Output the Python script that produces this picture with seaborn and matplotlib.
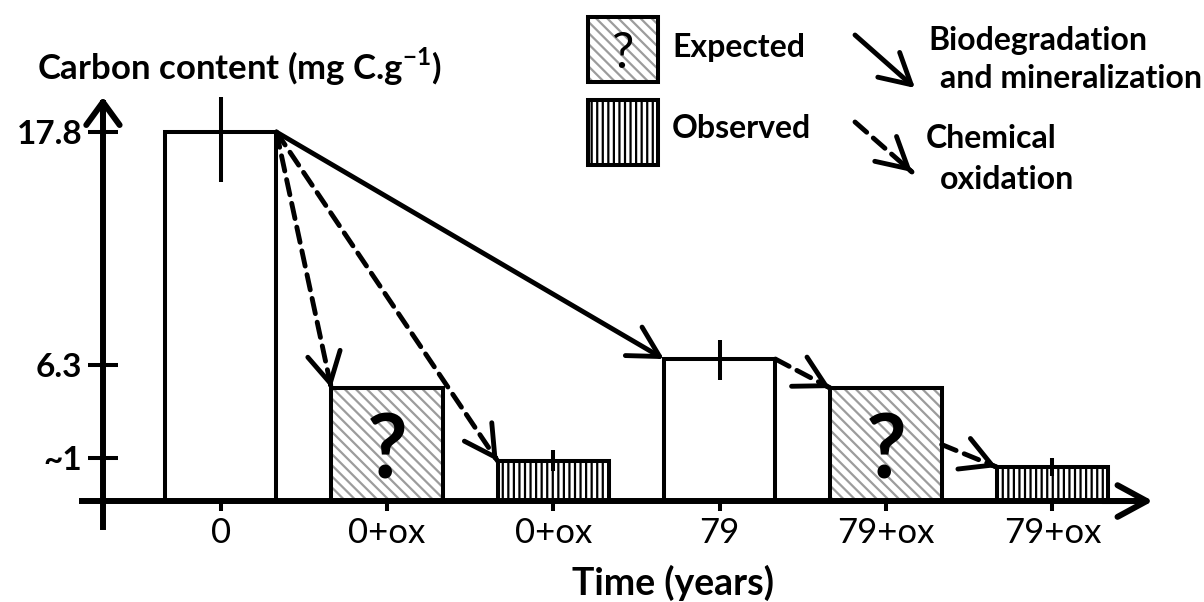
import numpy as np
import pandas as pd
import matplotlib.pyplot as plt
from matplotlib.patches import Rectangle
import seaborn as sns

# --- data: schematic heights (chart units) ---
samples = ["0", "0+ox exp", "0+ox obs", "79", "79+ox exp", "79+ox obs"]
tick_labels = ["0", "0+ox", "0+ox", "79", "79+ox", "79+ox"]
kinds = ["measured", "expected", "observed", "measured", "expected", "observed"]
heights = [17.8, 5.45, 1.93, 6.85, 5.45, 1.64]
err_low = [2.41, np.nan, 0.5, 1.01, np.nan, 0.43]
err_high = [1.71, np.nan, 0.53, 0.92, np.nan, 0.43]
y_ticks = [17.8, 6.56, 2.07]
y_tick_labels = ["17.8", "6.3", "~1"]
# (from bar, to bar, dashed, height fraction where the arrow leaves the source bar)
links = [(0, 3, False, 1.0), (0, 1, True, 1.0), (0, 2, True, 1.0),
         (3, 4, True, 1.0), (4, 5, True, 0.5)]

LW = 2.9
ALW = 3.5
DASH = (0, (3.2, 1.8))
HATCH_GREY = "#9c9c9c"

sns.set_style("white", {"axes.edgecolor": "black", "xtick.color": "black",
                        "ytick.color": "black", "text.color": "black"})
plt.rcParams["font.family"] = ["Lato", "DejaVu Sans"]
plt.rcParams["hatch.linewidth"] = 1.6
plt.rcParams["mathtext.fontset"] = "custom"
plt.rcParams["mathtext.rm"] = "Lato"
plt.rcParams["mathtext.bf"] = "Lato:bold"

fig = plt.figure(figsize=(12.04, 6.02), dpi=100)
ax = fig.add_axes([0, 0, 1, 1])

df = pd.DataFrame({"sample": samples, "carbon": heights})
sns.barplot(data=df, x="sample", y="carbon", order=samples, color="white",
            width=0.67, edgecolor="black", linewidth=LW, ax=ax, zorder=2)

bars = list(ax.patches)[:len(samples)]
for bar, kind in zip(bars, kinds):
    if kind == "expected":
        bar.set_facecolor("white")
        bar.set_edgecolor(HATCH_GREY)
        bar.set_hatch("\\\\\\")
        bar.set_linewidth(0)
        ax.add_patch(Rectangle(bar.get_xy(), bar.get_width(), bar.get_height(),
                               fill=False, ec="black", lw=LW, zorder=3))
    elif kind == "observed":
        bar.set_hatch("|||")

# question marks on the expected bars
for i, (kind, h) in enumerate(zip(kinds, heights)):
    if kind == "expected":
        ax.text(i, h / 2, "?", ha="center", va="center_baseline",
                fontsize=64, fontweight="bold", zorder=5)

# error bars
idx = [i for i, e in enumerate(err_low) if not np.isnan(e)]
ax.errorbar(idx, [heights[i] for i in idx],
            yerr=[[err_low[i] for i in idx], [err_high[i] for i in idx]],
            fmt="none", ecolor="black", elinewidth=LW, capsize=0, zorder=4)


def draw_arrow(start, end, dashed, coords="data", scale=36):
    head = "->,head_length=0.6,head_width=0.33"
    if dashed:
        ax.annotate("", xy=end, xytext=start, xycoords=coords,
                    arrowprops=dict(arrowstyle="-", lw=ALW, linestyle=DASH,
                                    color="black", shrinkA=0, shrinkB=0))
        near = (end[0] - 0.01 * (end[0] - start[0]), end[1] - 0.01 * (end[1] - start[1]))
        ax.annotate("", xy=end, xytext=near, xycoords=coords,
                    arrowprops=dict(arrowstyle=head, lw=ALW, color="black",
                                    shrinkA=0, shrinkB=0, mutation_scale=scale))
    else:
        ax.annotate("", xy=end, xytext=start, xycoords=coords,
                    arrowprops=dict(arrowstyle=head, lw=ALW, color="black",
                                    shrinkA=0, shrinkB=0, mutation_scale=scale))


for src, dst, dashed, frac in links:
    b0, b1 = bars[src], bars[dst]
    start = (b0.get_x() + b0.get_width(), heights[src] * frac)
    end = (b1.get_x(), heights[dst])
    draw_arrow(start, end, dashed)

# axes with arrow heads
ax.set_xlim(-1.327, 5.912)
ax.set_ylim(-4.87, 24.17)
ax.set_xlabel("")
ax.set_ylabel("")
for s in ["top", "right"]:
    ax.spines[s].set_visible(False)
ax.spines["left"].set_position(("data", -0.708))
ax.spines["left"].set_bounds(-1.25, 19.2)
ax.spines["bottom"].set_position(("data", 0))
ax.spines["bottom"].set_bounds(-0.834, 5.5)
for s in ["left", "bottom"]:
    ax.spines[s].set_linewidth(4.3)
    ax.spines[s].set_color("black")
    ax.spines[s].set_zorder(2.6)
ax.annotate("", xy=(-0.708, 19.49), xytext=(-0.708, 18.5),
            arrowprops=dict(arrowstyle="->,head_length=0.55,head_width=0.4", lw=4.3,
                            color="black", shrinkA=0, shrinkB=0, mutation_scale=30))
ax.annotate("", xy=(5.605, 0), xytext=(5.3, 0),
            arrowprops=dict(arrowstyle="->,head_length=0.7,head_width=0.38", lw=4.3,
                            color="black", shrinkA=0, shrinkB=0, mutation_scale=30))

ax.set_xticks(range(len(samples)), tick_labels)
ax.set_yticks(y_ticks, y_tick_labels)
ax.tick_params(axis="x", bottom=True, direction="inout", length=14.4, width=LW,
               pad=4, labelsize=25)
ax.tick_params(axis="y", left=True, direction="inout", length=22, width=LW,
               pad=4, labelsize=24)
for lab in ax.get_yticklabels():
    lab.set_fontweight("bold")


def px(x, y):
    return (x / 1204, 1 - y / 602)


# axis titles
fig.text(*px(37, 79), r"Carbon content (mg C.g$^{\mathbf{-1}}$)", fontsize=25,
         fontweight="bold", ha="left", va="baseline")
fig.text(*px(673, 595), "Time (years)", fontsize=27, fontweight="bold",
         ha="center", va="baseline")

# legend: boxes
w, h = 70 / 1204, 65 / 602
exp_box = Rectangle(px(588, 82), w, h, transform=fig.transFigure, facecolor="white",
                    edgecolor=HATCH_GREY, hatch="\\\\\\", lw=0)
fig.add_artist(exp_box)
fig.add_artist(Rectangle(px(588, 82), w, h, transform=fig.transFigure, fill=False,
                         ec="black", lw=LW))
fig.text(*px(623, 49), "?", fontsize=36, ha="center", va="center_baseline")
fig.add_artist(Rectangle(px(588, 165), w, h, transform=fig.transFigure, facecolor="white",
                         edgecolor="black", hatch="|||", lw=LW))
fig.text(*px(672, 57), "Expected", fontsize=23, fontweight="bold", va="baseline")
fig.text(*px(672, 138), "Observed", fontsize=23, fontweight="bold", va="baseline")

# legend: arrows
draw_arrow(px(855, 35), px(915, 88), False, coords="figure fraction")
draw_arrow(px(855, 122), px(912, 172), True, coords="figure fraction")
fig.text(*px(928, 50), "Biodegradation", fontsize=23, fontweight="bold", va="baseline")
fig.text(*px(940, 88), "and mineralization", fontsize=23, fontweight="bold", va="baseline")
fig.text(*px(926, 148), "Chemical", fontsize=23, fontweight="bold", va="baseline")
fig.text(*px(940, 189), "oxidation", fontsize=23, fontweight="bold", va="baseline")

fig.savefig("out.png", dpi=100)
